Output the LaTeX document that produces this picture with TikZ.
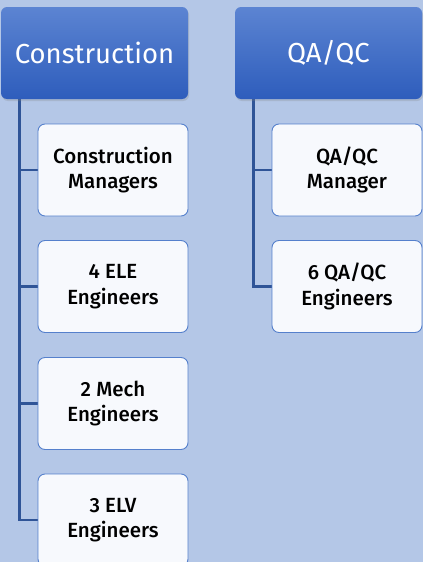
\documentclass[tikz,border=0pt]{standalone}
\usepackage{fontspec}
\setmainfont{Fira Sans}[UprightFont=* Medium]
\newfontfamily\headfont{Fira Sans}
\usepackage{tikz}
\usetikzlibrary{shadows}
\definecolor{bgblue}{HTML}{B4C7E7}
\definecolor{headtop}{HTML}{5C84D2}
\definecolor{headbot}{HTML}{2E5DBC}
\definecolor{boxfill}{HTML}{F7F9FD}
\definecolor{boxline}{HTML}{5580CC}
\definecolor{linkblue}{HTML}{2F5497}

\begin{document}
\begin{tikzpicture}[x=1pt,y=-1pt,
    head/.style={rectangle,rounded corners=6pt,minimum width=187pt,minimum height=92pt,
      top color=headtop,bottom color=headbot,text=white,font=\headfont\fontsize{27.5}{30}\selectfont,
      drop shadow={opacity=0.25,shadow xshift=1pt,shadow yshift=-2pt}},
    member/.style={rectangle,rounded corners=7pt,minimum width=150pt,minimum height=92pt,
      draw=boxline,line width=0.9pt,fill=boxfill,align=center,
      font=\fontsize{20.5}{25.5}\selectfont},
    link/.style={draw=linkblue,line width=2.6pt}]
      \fill[bgblue] (0,0) rectangle (423,562);
      \useasboundingbox (0,0) rectangle (423,562);

      \coordinate (cspine) at (19.5,99);
      \coordinate (qspine) at (253.5,99);

      \draw[link] (cspine) -- (19.5,520) -- (38,520);
      \draw[link] (qspine) -- (253.5,286.5) -- (272,286.5);
      \draw[link] (cspine |- 0,170) -- (38,170);
      \draw[link] (cspine |- 0,286.5) -- (38,286.5);
      \draw[link] (cspine |- 0,403.5) -- (38,403.5);
      \draw[link] (qspine |- 0,170) -- (272,170);

      \node[head] (cons) at (94.5,53) {Construction};
      \node[head] (qaqc) at (328.5,53) {QA/QC};

      \node[member] (mgr) at (113,170) {Construction\\Managers};
      \node[member] (ele) at (113,286.5) {4 ELE\\Engineers};
      \node[member] (mech) at (113,403.5) {2 Mech\\Engineers};
      \node[member] (elv) at (113,520) {3 ELV\\Engineers};

      \node[member] (qmgr) at (347,170) {QA/QC\\Manager};
      \node[member] (qeng) at (347,286.5) {6 QA/QC\\Engineers};
\end{tikzpicture}
\end{document}
